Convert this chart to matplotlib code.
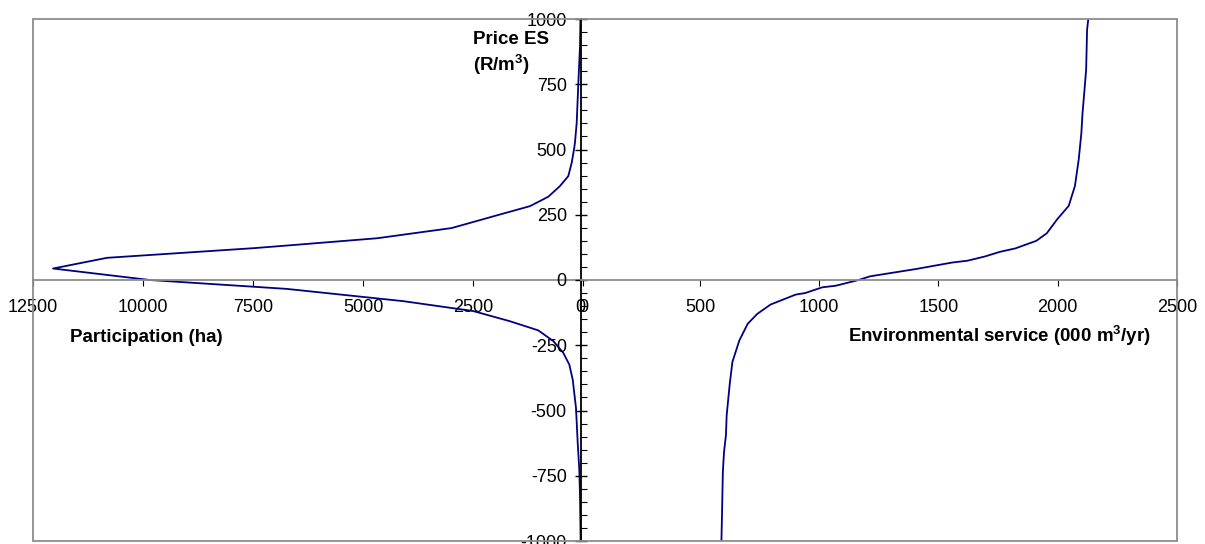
import matplotlib
matplotlib.use('Agg')
from matplotlib import pyplot as plt
from matplotlib.patches import Rectangle
from matplotlib.ticker import MultipleLocator, FixedLocator

plt.rcParams['font.family'] = ['Liberation Sans', 'DejaVu Sans']
plt.rcParams['mathtext.default'] = 'regular'

# participation curve (left half), price in R/m3
participation_ha = [65, 75, 114, 150, 189, 211, 264, 341, 530, 795, 1211, 1893,
                    2992, 4682, 6439, 7484, 10818, 12045, 9848, 6741, 4091, 2500,
                    1666, 1023, 682, 455, 318, 241, 166, 127, 91, 75, 60]
participation_price = [1000, 896, 749, 602, 527, 500, 449, 398, 360, 319, 283, 251,
                       199, 160, 136, 122, 85, 44, 0, -34, -81, -119,
                       -158, -193, -234, -279, -324, -381, -490, -624, -726, -828, -1000]

# environmental service curve (right half)
service = [2128, 2123, 2119, 2111, 2104, 2099, 2088, 2072, 2046, 1998, 1954, 1910,
           1822, 1758, 1694, 1622, 1558, 1405, 1213, 1165, 1069, 1013, 941, 901,
           796, 740, 700, 665, 636, 625, 612, 609, 601, 596, 593, 590]
service_price = [1000, 958, 805, 716, 640, 563, 462, 360, 284, 233, 179, 150,
                 121, 108, 90, 74, 67, 42, 14, 0, -22, -28, -50, -56,
                 -94, -130, -168, -232, -314, -397, -518, -594, -658, -734, -874, -1000]

left_ticks = [12500, 10000, 7500, 5000, 2500, 0]
right_ticks = [0, 500, 1000, 1500, 2000, 2500]
price_ticks = [1000, 750, 500, 250, 0, -250, -500, -750, -1000]

W, H = 1205, 544
fig = plt.figure(figsize=(W / 100, H / 100), dpi=100)

x0, x_mid, x1 = 33, 580.7, 1177
y_top, y_bot = 19, 541
by = (H - y_bot) / H
bh = (y_bot - y_top) / H

line_col = '#000080'
grey = '#8c8c8c'
fs = 13

axl = fig.add_axes([x0 / W, by, (583.3 - x0) / W, bh])
axr = fig.add_axes([x_mid / W, by, (x1 - x_mid) / W, bh])

for ax in (axl, axr):
    ax.set_facecolor('none')
    ax.set_ylim(-1000, 1000)
    for s in ('top', 'right', 'left'):
        ax.spines[s].set_visible(False)
    ax.spines['bottom'].set_position(('data', 0))
    ax.spines['bottom'].set_color(grey)
    ax.spines['bottom'].set_linewidth(1.3)
    ax.tick_params(axis='x', direction='out', length=4, width=0.8,
                   color='black', labelsize=fs, pad=10)

axl.plot(participation_ha, participation_price, color=line_col, lw=1.3)
axl.set_xlim(12500, 0)
axl.xaxis.set_major_locator(FixedLocator(left_ticks))
axl.set_xticklabels([str(t) for t in left_ticks])
axl.set_yticks([])

axr.plot(service, service_price, color=line_col, lw=1.3)
axr.set_xlim(0, 2500)
axr.xaxis.set_major_locator(FixedLocator(right_ticks))
axr.set_xticklabels([str(t) for t in right_ticks])

axr.spines['left'].set_visible(True)
axr.spines['left'].set_color('black')
axr.spines['left'].set_linewidth(1.3)
axr.yaxis.set_major_locator(FixedLocator(price_ticks))
axr.set_yticklabels([str(t) for t in price_ticks])
axr.yaxis.set_minor_locator(MultipleLocator(50))
axr.tick_params(axis='y', which='major', direction='inout', length=8, width=1,
                labelsize=fs, pad=6)
axr.tick_params(axis='y', which='minor', direction='in', length=4.5, width=0.8)

# outer frame of the plot area
fig.patches.append(Rectangle((x0 / W, by), (x1 - x0) / W, bh, transform=fig.transFigure,
                             fill=False, edgecolor=grey, lw=1.3, zorder=0))

fig.text(70 / W, 1 - 341.5 / H, 'Participation (ha)', fontsize=13.5,
         fontweight='bold', ha='left', va='baseline')
fig.text(1151 / W, 1 - 341.5 / H, r'Environmental service (000 m$^3$/yr)',
         fontsize=13.5, fontweight='bold', ha='right', va='baseline')
fig.text(472.7 / W, 1 - 44.3 / H, 'Price ES', fontsize=13.5,
         fontweight='bold', ha='left', va='baseline')
fig.text(472.7 / W, 1 - 71 / H, r'(R/m$^3$)', fontsize=13.5,
         fontweight='bold', ha='left', va='baseline')

fig.savefig('out.png', dpi=100)
